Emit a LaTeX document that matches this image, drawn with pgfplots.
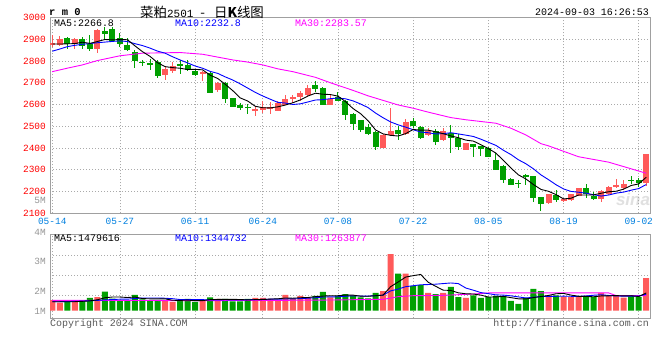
\documentclass[border=0pt]{standalone}
\usepackage{pgfplots}
\pgfplotsset{compat=1.18}
\usepackage{pgfplotstable}
\usepackage{fontspec}
\setmainfont{Liberation Mono}
\setmonofont{Liberation Mono}
\newfontfamily\cjk{Noto Sans CJK SC}
\newfontfamily\sansf{Liberation Sans}
\definecolor{cred}{RGB}{255,90,90}
\definecolor{cgreen}{RGB}{0,160,0}
\definecolor{cblue}{RGB}{0,0,255}
\definecolor{cmag}{RGB}{255,0,255}
\definecolor{cdate}{RGB}{0,128,224}
\definecolor{cgrid}{RGB}{170,170,170}
\definecolor{cframe}{RGB}{160,160,160}
\definecolor{cvol}{RGB}{150,150,150}

% i open high low close volume(M)
\pgfplotstableread{
i o h l c v
0 2873 2920 2866 2883 0.89
1 2874 2916 2871 2899 0.67
3 2877 2905 2856 2902 0.73
6 2856 2945 2837 2942 1.14
15 2737 2775 2713 2761 0.89
16 2752 2797 2743 2778 0.73
20 2738 2752 2710 2750 0.89
22 2667 2704 2658 2701 0.98
27 2572 2594 2545 2581 1.06
28 2575 2618 2560 2590 1.06
29 2582 2612 2557 2587 0.98
30 2572 2615 2572 2606 0.89
31 2600 2645 2597 2624 1.31
32 2627 2645 2606 2634 0.98
33 2634 2660 2618 2655 1.23
34 2643 2689 2636 2676 1.11
37 2600 2643 2600 2627 1.11
44 2402 2463 2399 2460 1.64
45 2460 2586 2457 2479 4.72
47 2463 2534 2460 2521 3.09
50 2461 2494 2457 2479 1.48
52 2439 2494 2432 2479 1.48
55 2393 2425 2390 2423 1.06
66 2147 2190 2144 2187 1.28
68 2157 2169 2151 2166 1.17
69 2162 2190 2158 2187 1.14
70 2181 2218 2178 2218 1.14
73 2166 2208 2151 2203 1.48
74 2187 2224 2184 2221 1.23
75 2221 2258 2215 2230 1.23
76 2215 2252 2208 2236 1.09
79 2240 2374 2224 2374 2.72
}\uptab

\pgfplotstableread{
i o h l c v
2 2905 2911 2856 2877 0.73
4 2902 2911 2853 2871 0.89
5 2877 2920 2847 2856 1.06
7 2940 2958 2900 2923 1.59
8 2946 2958 2894 2894 1.00
9 2905 2928 2866 2878 0.89
10 2874 2905 2847 2852 0.89
11 2843 2851 2767 2801 1.31
12 2797 2806 2775 2790 0.95
13 2791 2810 2760 2786 0.89
14 2797 2805 2720 2733 0.89
17 2784 2805 2741 2776 0.89
18 2782 2805 2754 2757 0.98
19 2756 2760 2733 2736 0.73
21 2747 2750 2655 2655 1.11
23 2698 2704 2609 2624 0.98
24 2630 2632 2588 2590 0.78
25 2597 2606 2575 2582 0.78
26 2590 2603 2557 2583 0.98
35 2689 2710 2658 2671 1.23
36 2676 2680 2597 2600 1.56
38 2636 2658 2615 2618 1.23
39 2615 2621 2529 2551 1.39
40 2558 2561 2485 2512 1.23
41 2528 2531 2475 2482 1.11
42 2497 2512 2460 2466 1.03
43 2475 2479 2390 2405 1.48
46 2485 2503 2439 2466 3.09
48 2524 2537 2491 2500 2.06
49 2497 2500 2442 2445 2.14
51 2479 2488 2414 2427 1.39
53 2469 2506 2379 2448 1.98
54 2448 2466 2393 2405 1.14
56 2417 2420 2359 2405 1.28
57 2408 2410 2365 2396 1.06
58 2402 2405 2359 2359 1.14
59 2347 2377 2301 2301 1.23
60 2319 2320 2239 2255 1.23
61 2258 2264 2230 2230 0.81
62 2240 2255 2215 2238 0.56
63 2276 2282 2230 2265 1.06
64 2270 2273 2151 2172 1.81
65 2175 2177 2111 2144 1.64
67 2184 2208 2153 2162 1.28
71 2218 2233 2169 2187 1.23
72 2181 2197 2160 2166 1.14
77 2255 2273 2236 2249 1.23
78 2255 2264 2221 2240 1.14
}\downtab

\pgfplotstableread{
i ma5 ma10 vma5 vma10
0 2878 2845 0.75 0.75
1 2878 2855 0.75 0.75
2 2879 2866 0.75 0.76
3 2880 2872 0.75 0.78
4 2886.4 2877 0.78 0.80
5 2881 2880 0.82 0.83
6 2889.6 2884 0.91 0.86
7 2898.8 2887 1.08 0.90
8 2897.2 2890 1.14 0.93
9 2898.6 2892.5 1.14 0.96
10 2897.8 2889.4 1.10 0.96
11 2869.6 2879.6 1.14 1.02
12 2843 2870.9 1.01 1.05
13 2821.4 2859.3 0.99 1.06
14 2792.4 2845.5 0.99 1.06
15 2774.2 2836 0.99 1.04
16 2769.6 2819.6 0.87 1.00
17 2766.8 2804.9 0.86 0.93
18 2761 2791.2 0.88 0.93
19 2761.6 2777 0.84 0.92
20 2759.4 2766.8 0.84 0.92
21 2734.8 2752.2 0.92 0.90
22 2719.8 2743.3 0.94 0.90
23 2693.2 2727.1 0.94 0.91
24 2664 2712.8 0.95 0.90
25 2630.4 2694.9 0.93 0.89
26 2616 2675.4 0.90 0.91
27 2592 2655.9 0.92 0.93
28 2585.2 2639.2 0.93 0.94
29 2584.6 2624.3 0.97 0.96
30 2589.4 2609.9 0.99 0.96
31 2597.6 2606.8 1.06 0.98
32 2608.2 2600.1 1.04 0.98
33 2621.2 2603.2 1.08 1.01
34 2639 2611.8 1.10 1.04
35 2652 2620.7 1.17 1.08
36 2647.2 2622.4 1.22 1.14
37 2645.8 2627 1.25 1.15
38 2638.4 2629.8 1.25 1.16
39 2613.4 2626.2 1.30 1.20
40 2581.6 2616.8 1.30 1.24
41 2558 2602.6 1.21 1.22
42 2525.8 2585.8 1.20 1.22
43 2483.2 2560.8 1.25 1.25
44 2465 2539.2 1.30 1.30
45 2458.4 2520 2.00 1.65
46 2455.2 2506.6 2.39 1.80
47 2466.2 2496 2.80 2.00
48 2485.2 2484.2 2.92 2.08
49 2482.2 2473.6 3.02 2.16
50 2482.2 2470.3 2.37 2.18
51 2474.4 2464.8 2.03 2.21
52 2466 2466.1 1.71 2.26
53 2455.6 2470.4 1.69 2.31
54 2447.6 2464.9 1.49 2.26
55 2436.4 2459.3 1.41 1.89
56 2432 2453.2 1.39 1.71
57 2415.4 2440.7 1.30 1.51
58 2397.6 2426.6 1.14 1.42
59 2376.8 2412.2 1.15 1.32
60 2343.2 2389.8 1.19 1.30
61 2308.2 2370.1 1.09 1.24
62 2276.6 2346 0.99 1.15
63 2257.8 2327.7 0.98 1.06
64 2232 2304.4 1.09 1.12
65 2209.8 2276.5 1.18 1.18
66 2201.2 2254.7 1.27 1.18
67 2186 2231.3 1.41 1.20
68 2166.2 2212 1.44 1.21
69 2169.2 2200.6 1.30 1.20
70 2184 2196.9 1.20 1.19
71 2184 2192.6 1.19 1.23
72 2184.8 2185.4 1.16 1.29
73 2192.2 2179.2 1.23 1.33
74 2199 2184.1 1.24 1.27
75 2201.4 2192.7 1.26 1.23
76 2211.2 2197.6 1.23 1.21
77 2227.8 2206.3 1.25 1.22
78 2235.2 2213.7 1.18 1.22
79 2265.8 2232.4 1.48 1.37
}\matab

\pgfplotstableread{
i ma30
0 2751
2 2767
4 2782
6 2802
9 2824
12 2836
17 2839
20 2831
24 2805
26 2795
28 2782
30 2764
32 2751
35 2725
37 2700
40 2665
42 2640
46 2598
48 2583
50 2565
53 2540
55 2530
59 2514
61 2491
63 2460
65 2420
66 2410
70 2360
74 2335
79 2284
}\mathirtytab

\pgfplotstableread{
i vma30
0 0.86
10 0.85
20 0.84
30 0.86
37 0.89
44 0.95
45 1.05
46 1.17
48 1.25
52 1.28
56 1.39
58 1.48
74 1.48
75 1.26
79 1.26
}\vmathirtytab

\pgfplotsset{
  kstyle/.style={
    scale only axis, width=600bp, xmin=-0.3, xmax=79.5,
    axis line style={draw=cframe, line width=1bp},
    major tick length=0pt, tick style={draw=none},
    xmajorgrids, ymajorgrids,
    grid style={dash pattern=on 1bp off 2bp, line width=0.8bp, color=cgrid},
    xtick={0,9,19,28,38,48,58,68,78},
    /pgf/number format/assume math mode=true,
    /pgf/number format/1000 sep={},
    scaled y ticks=false,
    ticklabel style={font=\fontsize{9.5}{9.5}\selectfont},
  },
  candle/.style 2 args={draw=none, mark=none, forget plot,
    /pgfplots/error bars/.cd, y dir=both, y explicit, error mark=none,
    error mark options={draw=none},
    error bar style={line width=#1, draw=#2, solid}},
}

\begin{document}
\begin{tikzpicture}
\path[use as bounding box, fill=white] (0,0) rectangle (660bp,360bp);
\node[text=black!12, font=\sansf\bfseries\itshape\fontsize{17}{17}\selectfont] at (633bp,161bp) {sina};

\begin{axis}[kstyle, at={(50bp,146.7bp)}, anchor=south west, height=195.8bp,
  ymin=2100, ymax=3000, ytick={2100,2200,...,3000},
  yticklabel style={text=red, inner sep=0pt, xshift=-4bp},
  xticklabels={05-14,05-27,06-11,06-24,07-08,07-22,08-05,08-19,09-02},
  xticklabel style={text=cdate, inner sep=0pt, yshift=-4.5bp}]
% wicks
\addplot[candle={1bp}{cred}] table[x=i, y expr={(\thisrow{h}+\thisrow{l})/2}, y error expr={(\thisrow{h}-\thisrow{l})/2}] {\uptab};
\addplot[candle={1bp}{cgreen}] table[x=i, y expr={(\thisrow{h}+\thisrow{l})/2}, y error expr={(\thisrow{h}-\thisrow{l})/2}] {\downtab};
% bodies
\addplot[candle={6bp}{cred}] table[x=i, y expr={(\thisrow{o}+\thisrow{c})/2}, y error expr={max(abs(\thisrow{c}-\thisrow{o})/2,2.3)}] {\uptab};
\addplot[candle={6bp}{cgreen}] table[x=i, y expr={(\thisrow{o}+\thisrow{c})/2}, y error expr={max(abs(\thisrow{c}-\thisrow{o})/2,2.3)}] {\downtab};
% moving averages
\addplot[cmag, line width=0.9bp, mark=none] table[x=i, y=ma30] {\mathirtytab};
\addplot[cblue, line width=0.9bp, mark=none] table[x=i, y=ma10] {\matab};
\addplot[black, line width=0.9bp, mark=none] table[x=i, y=ma5] {\matab};
\end{axis}

\begin{axis}[kstyle, at={(50bp,41.7bp)}, anchor=south west, height=83.6bp,
  ymin=-0.633, ymax=6.333, ytick={1.31,2.98,4.64}, yticklabels={}, xticklabels={}]
\addplot[ybar, bar width=6bp, bar shift=0pt, fill=cred, draw=none] table[x=i, y=v] {\uptab};
\addplot[ybar, bar width=6bp, bar shift=0pt, fill=cgreen, draw=none] table[x=i, y=v] {\downtab};
\addplot[cmag, line width=0.9bp, mark=none] table[x=i, y=vma30] {\vmathirtytab};
\addplot[cblue, line width=0.9bp, mark=none] table[x=i, y=vma10] {\matab};
\addplot[black, line width=0.9bp, mark=none] table[x=i, y=vma5] {\matab};
\end{axis}

% header
\node[anchor=west, font=\bfseries\fontsize{10.5}{10.5}\selectfont, inner sep=0pt] at (49bp,348bp) {r m 0};
\node[anchor=west, font=\cjk\fontsize{13.5}{13.5}\selectfont, inner sep=0pt] at (140bp,348bp) {菜粕{\rmfamily\fontsize{11}{11}\selectfont 2501}\hspace{7bp}-\hspace{9bp}日{\bfseries K}线图};
\node[anchor=east, font=\fontsize{10}{10}\selectfont, inner sep=0pt] at (649bp,348bp) {2024-09-03 16:26:53};
% price legend
\node[anchor=west, font=\fontsize{10}{10}\selectfont, inner sep=0pt, text=black] at (54bp,336.5bp) {MA5:2266.8};
\node[anchor=west, font=\fontsize{10}{10}\selectfont, inner sep=0pt, text=cblue] at (175bp,336.5bp) {MA10:2232.8};
\node[anchor=west, font=\fontsize{10}{10}\selectfont, inner sep=0pt, text=cmag] at (295bp,336.5bp) {MA30:2283.57};
% volume legend
\node[anchor=west, font=\fontsize{10}{10}\selectfont, inner sep=0pt, text=black] at (54bp,121.5bp) {MA5:1479616};
\node[anchor=west, font=\fontsize{10}{10}\selectfont, inner sep=0pt, text=cblue] at (175bp,121.5bp) {MA10:1344732};
\node[anchor=west, font=\fontsize{10}{10}\selectfont, inner sep=0pt, text=cmag] at (295bp,121.5bp) {MA30:1263877};
% volume scale labels
\foreach \yy/\tt in {159.5/5M,128/4M,99/3M,69/2M,49/1M}{
  \node[anchor=east, font=\fontsize{9.5}{9.5}\selectfont, inner sep=0pt, text=cvol] at (46bp,\yy bp) {\tt};
}
% footer
\node[anchor=west, font=\fontsize{10}{10}\selectfont, inner sep=0pt, text=black!65] at (50bp,36.5bp) {Copyright 2024 SINA.COM};
\node[anchor=east, font=\fontsize{10}{10}\selectfont, inner sep=0pt, text=black!65] at (649bp,36.5bp) {http://finance.sina.com.cn};
\end{tikzpicture}
\end{document}
